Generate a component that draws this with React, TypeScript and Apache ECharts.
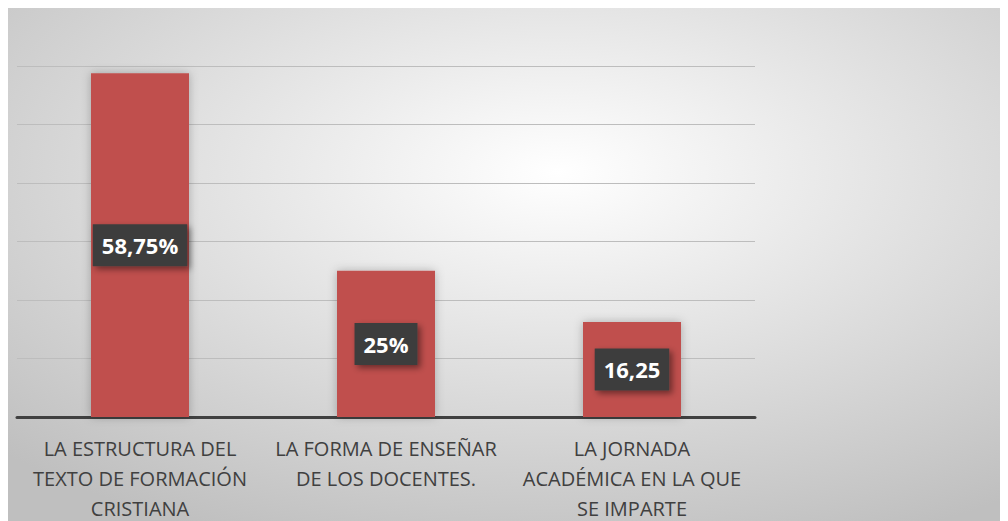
import React, { useEffect, useRef } from "react";
import * as echarts from "echarts";

const categories = [
  "LA ESTRUCTURA DEL\nTEXTO DE FORMACIÓN\nCRISTIANA",
  "LA FORMA DE ENSEÑAR\nDE LOS DOCENTES.",
  "LA JORNADA\nACADÉMICA EN LA QUE\nSE IMPARTE",
];
const values = [58.75, 25, 16.25];
const valueLabels = ["58,75%", "25%", "16,25"];

export default function App() {
  const ref = useRef<HTMLDivElement>(null);
  useEffect(() => {
    if (!ref.current) return;
    const chart = echarts.init(ref.current, null, { renderer: "svg" });
    chart.setOption({
      animation: false,
      backgroundColor: new echarts.graphic.RadialGradient(0.55, 0.32, 0.78, [
        { offset: 0, color: "#ffffff" },
        { offset: 1, color: "#bfbfbf" },
      ]),
      grid: {
        left: 9,
        right: 253,
        top: 58,
        bottom: 104,
        containLabel: false,
        outerBoundsMode: "none",
      },
      xAxis: {
        type: "category",
        data: categories,
        axisLine: { show: true, lineStyle: { color: "#404040", width: 3 } },
        axisTick: { show: false },
        axisLabel: {
          color: "#404040",
          fontFamily: "Open Sans",
          fontSize: 20,
          lineHeight: 30,
          margin: 16,
          interval: 0,
        },
      },
      yAxis: {
        type: "value",
        min: 0,
        max: 60,
        interval: 10,
        axisLabel: { show: false },
        axisLine: { show: false },
        axisTick: { show: false },
        splitLine: { lineStyle: { color: "#bdbdbd", width: 1 } },
      },
      series: [
        {
          type: "bar",
          data: values.map((v, i) => ({
            value: v,
            label: { formatter: valueLabels[i] },
          })),
          barWidth: 98,
          itemStyle: {
            color: "#C0504D",
            shadowBlur: 10,
            shadowColor: "rgba(0,0,0,0.25)",
          },
          label: {
            show: true,
            position: "inside",
            color: "#ffffff",
            fontFamily: "Open Sans",
            fontWeight: "bold",
            fontSize: 22,
            lineHeight: 24,
            backgroundColor: "#3d3d3d",
            padding: [9, 9, 9, 9],
            shadowBlur: 6,
            shadowColor: "rgba(0,0,0,0.45)",
            shadowOffsetX: 3,
            shadowOffsetY: 3,
          },
        },
      ],
    });
    return () => chart.dispose();
  }, []);
  return <div ref={ref} style={{ width: 1000, height: 513 }} />;
}
